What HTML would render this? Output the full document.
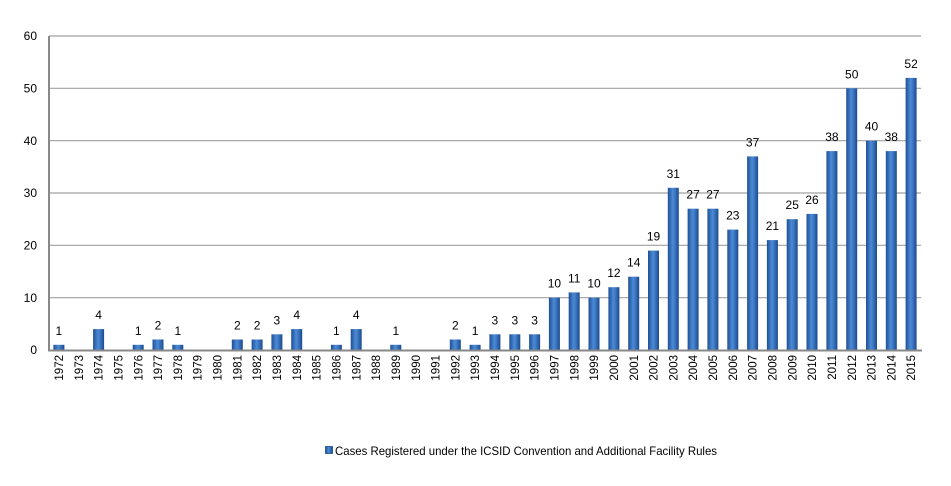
<!DOCTYPE html>
<html><head><meta charset="utf-8"><style>
html,body{margin:0;padding:0;background:#fff;}
svg{display:block;font-family:"Liberation Sans",sans-serif;}
</style></head><body>
<svg width="951" height="486" viewBox="0 0 951 486" xmlns="http://www.w3.org/2000/svg">
<defs>
<linearGradient id="g" x1="0" x2="1" y1="0" y2="0">
<stop offset="0" stop-color="#1f4f94"/><stop offset="0.45" stop-color="#4c8ad6"/><stop offset="0.6" stop-color="#3f7cc8"/><stop offset="1" stop-color="#1c4a8c"/>
</linearGradient>
</defs>
<g stroke="#a0a0a0" stroke-width="1.2">
<line x1="49" x2="921" y1="36" y2="36"/>
<line x1="49" x2="921" y1="88.3" y2="88.3"/>
<line x1="49" x2="921" y1="140.7" y2="140.7"/>
<line x1="49" x2="921" y1="193" y2="193"/>
<line x1="49" x2="921" y1="245.3" y2="245.3"/>
<line x1="49" x2="921" y1="297.7" y2="297.7"/>
</g>
<g font-size="12" fill="#000" text-anchor="end">
<text x="37" y="40">60</text>
<text x="37" y="92.5">50</text>
<text x="37" y="145">40</text>
<text x="37" y="197">30</text>
<text x="37" y="249.5">20</text>
<text x="37" y="302">10</text>
<text x="37" y="354">0</text>
</g>
<g font-size="12" fill="#000" text-anchor="middle">
<g transform="translate(58.9,350)"><rect x="-5.5" y="-5.2" width="11" height="5.2" fill="url(#g)"/><text y="-15.2">1</text></g>
<g transform="translate(98.6,350)"><rect x="-5.5" y="-20.9" width="11" height="20.9" fill="url(#g)"/><text y="-30.9">4</text></g>
<g transform="translate(138.2,350)"><rect x="-5.5" y="-5.2" width="11" height="5.2" fill="url(#g)"/><text y="-15.2">1</text></g>
<g transform="translate(158,350)"><rect x="-5.5" y="-10.5" width="11" height="10.5" fill="url(#g)"/><text y="-20.5">2</text></g>
<g transform="translate(177.8,350)"><rect x="-5.5" y="-5.2" width="11" height="5.2" fill="url(#g)"/><text y="-15.2">1</text></g>
<g transform="translate(237.3,350)"><rect x="-5.5" y="-10.5" width="11" height="10.5" fill="url(#g)"/><text y="-20.5">2</text></g>
<g transform="translate(257.1,350)"><rect x="-5.5" y="-10.5" width="11" height="10.5" fill="url(#g)"/><text y="-20.5">2</text></g>
<g transform="translate(276.9,350)"><rect x="-5.5" y="-15.7" width="11" height="15.7" fill="url(#g)"/><text y="-25.7">3</text></g>
<g transform="translate(296.7,350)"><rect x="-5.5" y="-20.9" width="11" height="20.9" fill="url(#g)"/><text y="-30.9">4</text></g>
<g transform="translate(336.4,350)"><rect x="-5.5" y="-5.2" width="11" height="5.2" fill="url(#g)"/><text y="-15.2">1</text></g>
<g transform="translate(356.2,350)"><rect x="-5.5" y="-20.9" width="11" height="20.9" fill="url(#g)"/><text y="-30.9">4</text></g>
<g transform="translate(395.8,350)"><rect x="-5.5" y="-5.2" width="11" height="5.2" fill="url(#g)"/><text y="-15.2">1</text></g>
<g transform="translate(455.3,350)"><rect x="-5.5" y="-10.5" width="11" height="10.5" fill="url(#g)"/><text y="-20.5">2</text></g>
<g transform="translate(475.1,350)"><rect x="-5.5" y="-5.2" width="11" height="5.2" fill="url(#g)"/><text y="-15.2">1</text></g>
<g transform="translate(494.9,350)"><rect x="-5.5" y="-15.7" width="11" height="15.7" fill="url(#g)"/><text y="-25.7">3</text></g>
<g transform="translate(514.8,350)"><rect x="-5.5" y="-15.7" width="11" height="15.7" fill="url(#g)"/><text y="-25.7">3</text></g>
<g transform="translate(534.6,350)"><rect x="-5.5" y="-15.7" width="11" height="15.7" fill="url(#g)"/><text y="-25.7">3</text></g>
<g transform="translate(554.4,350)"><rect x="-5.5" y="-52.3" width="11" height="52.3" fill="url(#g)"/><text y="-62.3">10</text></g>
<g transform="translate(574.2,350)"><rect x="-5.5" y="-57.6" width="11" height="57.6" fill="url(#g)"/><text y="-67.6">11</text></g>
<g transform="translate(594,350)"><rect x="-5.5" y="-52.3" width="11" height="52.3" fill="url(#g)"/><text y="-62.3">10</text></g>
<g transform="translate(613.9,350)"><rect x="-5.5" y="-62.8" width="11" height="62.8" fill="url(#g)"/><text y="-72.8">12</text></g>
<g transform="translate(633.7,350)"><rect x="-5.5" y="-73.3" width="11" height="73.3" fill="url(#g)"/><text y="-83.3">14</text></g>
<g transform="translate(653.5,350)"><rect x="-5.5" y="-99.4" width="11" height="99.4" fill="url(#g)"/><text y="-109.4">19</text></g>
<g transform="translate(673.3,350)"><rect x="-5.5" y="-162.2" width="11" height="162.2" fill="url(#g)"/><text y="-172.2">31</text></g>
<g transform="translate(693.1,350)"><rect x="-5.5" y="-141.3" width="11" height="141.3" fill="url(#g)"/><text y="-151.3">27</text></g>
<g transform="translate(712.9,350)"><rect x="-5.5" y="-141.3" width="11" height="141.3" fill="url(#g)"/><text y="-151.3">27</text></g>
<g transform="translate(732.8,350)"><rect x="-5.5" y="-120.4" width="11" height="120.4" fill="url(#g)"/><text y="-130.4">23</text></g>
<g transform="translate(752.6,350)"><rect x="-5.5" y="-193.6" width="11" height="193.6" fill="url(#g)"/><text y="-203.6">37</text></g>
<g transform="translate(772.4,350)"><rect x="-5.5" y="-109.9" width="11" height="109.9" fill="url(#g)"/><text y="-119.9">21</text></g>
<g transform="translate(792.2,350)"><rect x="-5.5" y="-130.8" width="11" height="130.8" fill="url(#g)"/><text y="-140.8">25</text></g>
<g transform="translate(812,350)"><rect x="-5.5" y="-136.1" width="11" height="136.1" fill="url(#g)"/><text y="-146.1">26</text></g>
<g transform="translate(831.9,350)"><rect x="-5.5" y="-198.9" width="11" height="198.9" fill="url(#g)"/><text y="-208.9">38</text></g>
<g transform="translate(851.7,350)"><rect x="-5.5" y="-261.7" width="11" height="261.7" fill="url(#g)"/><text y="-271.7">50</text></g>
<g transform="translate(871.5,350)"><rect x="-5.5" y="-209.3" width="11" height="209.3" fill="url(#g)"/><text y="-219.3">40</text></g>
<g transform="translate(891.3,350)"><rect x="-5.5" y="-198.9" width="11" height="198.9" fill="url(#g)"/><text y="-208.9">38</text></g>
<g transform="translate(911.1,350)"><rect x="-5.5" y="-272.1" width="11" height="272.1" fill="url(#g)"/><text y="-282.1">52</text></g>
</g>
<line x1="49" x2="49" y1="36" y2="351" stroke="#888" stroke-width="2"/>
<line x1="48" x2="922" y1="350.5" y2="350.5" stroke="#888" stroke-width="2"/>
<g font-size="11.5" fill="#000" text-anchor="end">
<text transform="translate(63,355) rotate(-90)">1972</text>
<text transform="translate(82.8,355) rotate(-90)">1973</text>
<text transform="translate(102.7,355) rotate(-90)">1974</text>
<text transform="translate(122.5,355) rotate(-90)">1975</text>
<text transform="translate(142.3,355) rotate(-90)">1976</text>
<text transform="translate(162.1,355) rotate(-90)">1977</text>
<text transform="translate(181.9,355) rotate(-90)">1978</text>
<text transform="translate(201.7,355) rotate(-90)">1979</text>
<text transform="translate(221.6,355) rotate(-90)">1980</text>
<text transform="translate(241.4,355) rotate(-90)">1981</text>
<text transform="translate(261.2,355) rotate(-90)">1982</text>
<text transform="translate(281,355) rotate(-90)">1983</text>
<text transform="translate(300.8,355) rotate(-90)">1984</text>
<text transform="translate(320.7,355) rotate(-90)">1985</text>
<text transform="translate(340.5,355) rotate(-90)">1986</text>
<text transform="translate(360.3,355) rotate(-90)">1987</text>
<text transform="translate(380.1,355) rotate(-90)">1988</text>
<text transform="translate(399.9,355) rotate(-90)">1989</text>
<text transform="translate(419.8,355) rotate(-90)">1990</text>
<text transform="translate(439.6,355) rotate(-90)">1991</text>
<text transform="translate(459.4,355) rotate(-90)">1992</text>
<text transform="translate(479.2,355) rotate(-90)">1993</text>
<text transform="translate(499,355) rotate(-90)">1994</text>
<text transform="translate(518.9,355) rotate(-90)">1995</text>
<text transform="translate(538.7,355) rotate(-90)">1996</text>
<text transform="translate(558.5,355) rotate(-90)">1997</text>
<text transform="translate(578.3,355) rotate(-90)">1998</text>
<text transform="translate(598.1,355) rotate(-90)">1999</text>
<text transform="translate(618,355) rotate(-90)">2000</text>
<text transform="translate(637.8,355) rotate(-90)">2001</text>
<text transform="translate(657.6,355) rotate(-90)">2002</text>
<text transform="translate(677.4,355) rotate(-90)">2003</text>
<text transform="translate(697.2,355) rotate(-90)">2004</text>
<text transform="translate(717,355) rotate(-90)">2005</text>
<text transform="translate(736.9,355) rotate(-90)">2006</text>
<text transform="translate(756.7,355) rotate(-90)">2007</text>
<text transform="translate(776.5,355) rotate(-90)">2008</text>
<text transform="translate(796.3,355) rotate(-90)">2009</text>
<text transform="translate(816.1,355) rotate(-90)">2010</text>
<text transform="translate(836,355) rotate(-90)">2011</text>
<text transform="translate(855.8,355) rotate(-90)">2012</text>
<text transform="translate(875.6,355) rotate(-90)">2013</text>
<text transform="translate(895.4,355) rotate(-90)">2014</text>
<text transform="translate(915.2,355) rotate(-90)">2015</text>
</g>
<rect x="325.5" y="446.5" width="7" height="7" fill="url(#g)" stroke="#1c4a8c" stroke-width="0.8"/>
<text x="335" y="455" font-size="12" textLength="382" lengthAdjust="spacingAndGlyphs">Cases Registered under the ICSID Convention and Additional Facility Rules</text>
</svg>
</body></html>
